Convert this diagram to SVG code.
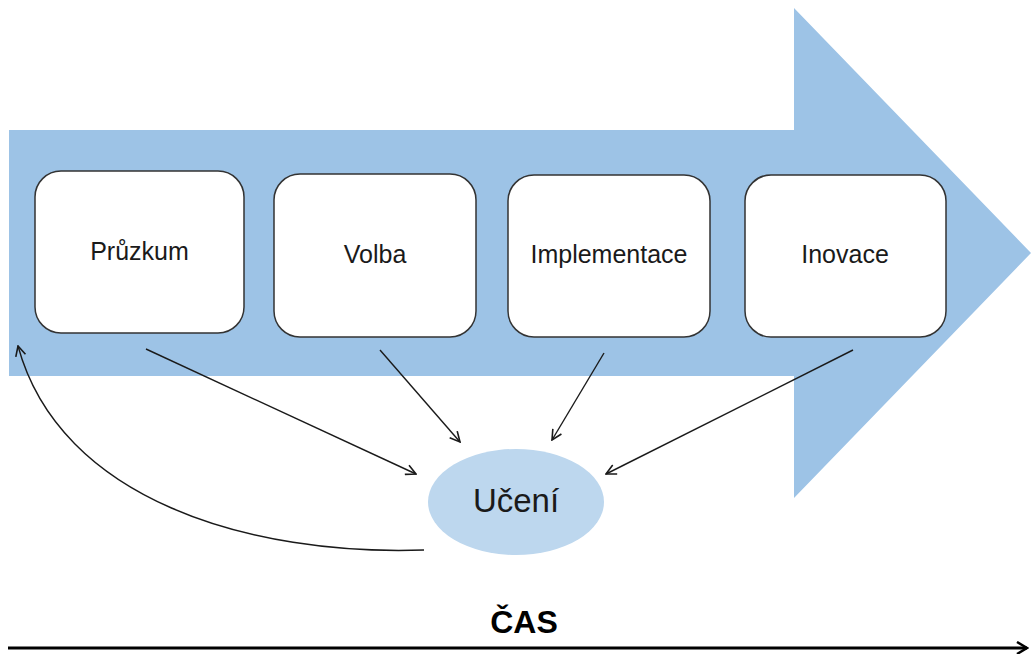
<svg xmlns="http://www.w3.org/2000/svg" width="1031" height="654" viewBox="0 0 1031 654">
  <style>
    .step rect { fill: #ffffff; stroke: #333333; stroke-width: 1.5; }
    .label { font-family: "Liberation Sans", Arial, sans-serif; font-size: 25px; fill: #1a1a1a; text-anchor: middle; }
    .link { fill: none; stroke: #1a1a1a; stroke-width: 1.4; marker-end: url(#open); }
  </style>
  <defs>
    <marker id="open" viewBox="0 0 12 12" refX="11" refY="6" markerWidth="12" markerHeight="12" markerUnits="userSpaceOnUse" orient="auto">
      <path d="M1 1 L11 6 L1 11" fill="none" stroke="#1a1a1a" stroke-width="1.6"/>
    </marker>
    <marker id="timeHead" viewBox="0 0 14 14" refX="12" refY="7" markerWidth="14" markerHeight="14" markerUnits="userSpaceOnUse" orient="auto">
      <path d="M2 1 L12 7 L2 13" fill="none" stroke="#000000" stroke-width="2.5"/>
    </marker>
  </defs>

  <!-- process flow arrow -->
  <polygon id="flow" points="9,130 794,130 794,8 1031,253 794,498 794,376 9,376" fill="#9dc3e6"/>

  <g id="pruzkum" class="step">
    <rect x="35" y="171" width="209" height="162" rx="26"/>
    <text class="label" x="139.5" y="260">Průzkum</text>
  </g>
  <g id="volba" class="step">
    <rect x="274" y="174" width="202" height="163" rx="26"/>
    <text class="label" x="375" y="263">Volba</text>
  </g>
  <g id="implementace" class="step">
    <rect x="508" y="175" width="202" height="162" rx="26"/>
    <text class="label" x="609" y="263">Implementace</text>
  </g>
  <g id="inovace" class="step">
    <rect x="745" y="175" width="201" height="162" rx="26"/>
    <text class="label" x="845" y="263">Inovace</text>
  </g>

  <g id="uceni">
    <ellipse cx="516" cy="502" rx="88" ry="53" fill="#bdd7ee"/>
    <text x="516" y="512" font-family="Liberation Sans, Arial, sans-serif" font-size="33" fill="#1a1a1a" text-anchor="middle">Učení</text>
  </g>

  <g id="connectors">
    <line class="link" x1="146" y1="349" x2="416" y2="474"/>
    <line class="link" x1="380" y1="350" x2="460" y2="442"/>
    <line class="link" x1="604" y1="353" x2="552" y2="440"/>
    <line class="link" x1="853" y1="350" x2="606" y2="474"/>
    <path class="link" d="M424 550 C 250 556, 60 500, 18 346"/>
  </g>

  <g id="cas">
    <text x="524" y="633" font-family="Liberation Sans, Arial, sans-serif" font-size="32" font-weight="bold" fill="#000000" text-anchor="middle">ČAS</text>
    <line x1="8" y1="648" x2="1027" y2="648" stroke="#000000" stroke-width="3" marker-end="url(#timeHead)"/>
  </g>
</svg>
